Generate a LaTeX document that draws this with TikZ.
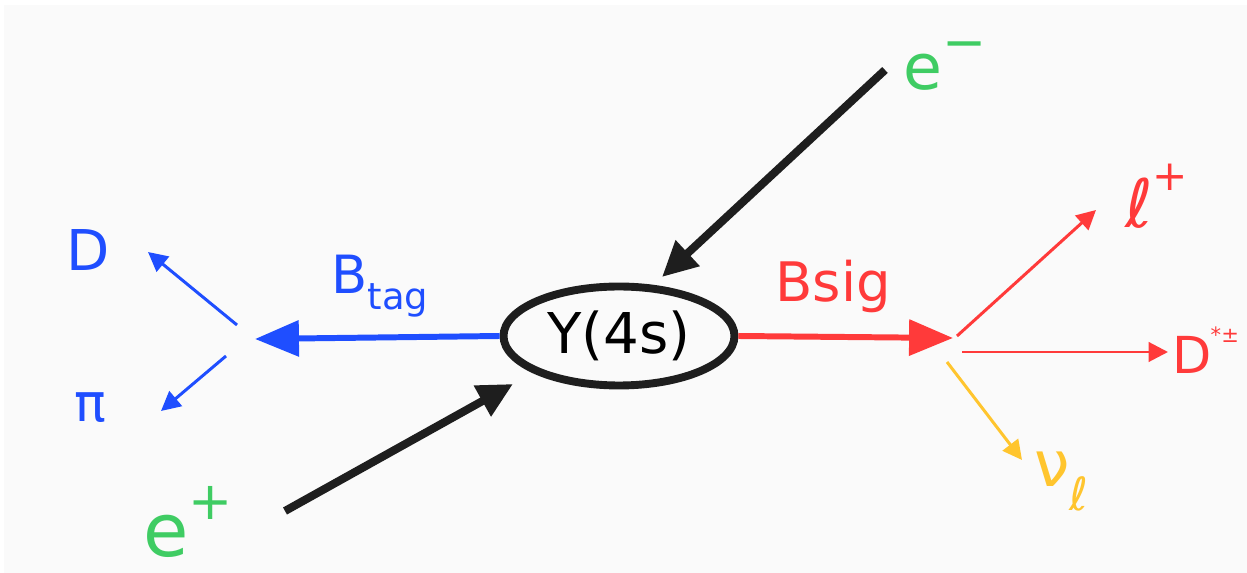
\documentclass[tikz,border=0pt]{standalone}
\usepackage{fontspec}
\setmainfont{DejaVu Sans}
\usetikzlibrary{arrows.meta,shapes.geometric}
\definecolor{paper}{HTML}{FAFAFA}
\definecolor{beamblk}{HTML}{1E1E1E}
\definecolor{tagblue}{HTML}{1F4EFF}
\definecolor{sigred}{HTML}{FF3A3A}
\definecolor{lepgreen}{HTML}{3FCC63}
\definecolor{nuyellow}{HTML}{FFC52E}
\newcommand{\fs}[1]{\fontsize{#1}{#1}\selectfont}
\tikzset{
  beam/.style={draw=beamblk, line width=4.6pt, -{Triangle[length=20pt,width=19pt]}},
  mainarrow/.style={line width=3.4pt, -{Triangle[length=25pt,width=20pt]}},
  decayarrow/.style={line width=1.7pt, -{Triangle[length=11pt,width=11pt]}},
  lbl/.style={inner sep=0pt, anchor=center}
}
\begin{document}
\begin{tikzpicture}[x=0.02cm, y=-0.02cm]
  % canvas
  \fill[white] (0,0) rectangle (1247,573);
  \fill[paper] (4,5) rectangle (1247,573);
  \clip (0,0) rectangle (1247,573);

  % resonance
  \node[ellipse, draw=beamblk, line width=4.5pt, minimum width=4.62cm, minimum height=1.98cm, inner sep=0pt]
    (Y) at (619,336) {\fs{32}Υ(4s)};

  % incoming beams
  \coordinate (emtail) at (885,70);
  \coordinate (emtip) at (662,277);
  \coordinate (eptail) at (285,511);
  \coordinate (eptip) at (513,384);
  \draw[beam] (emtail) -- (emtip);
  \draw[beam] (eptail) -- (eptip);
  \node[lbl, text=lepgreen] (em) at (945,66) {\fs{36}e\raisebox{0.45em}{\fs{30}−}};
  \node[lbl, text=lepgreen] (ep) at (188,522) {\fs{42}e\raisebox{0.5em}{\fs{30}+}};

  % tag side
  \coordinate (tagtip) at (255,339);
  \draw[mainarrow, tagblue] (Y.west) -- (tagtip);
  \node[lbl, text=tagblue] (btag) at (380,286) {\fs{30}B\raisebox{-0.3em}{\fs{21}tag}};
  \coordinate (dtail) at (237,325);
  \coordinate (dtip) at (148,252);
  \coordinate (pitail) at (226,356);
  \coordinate (pitip) at (161,411);
  \draw[decayarrow, tagblue] (dtail) -- (dtip);
  \draw[decayarrow, tagblue] (pitail) -- (pitip);
  \node[lbl, text=tagblue] (D) at (88,250) {\fs{32}D};
  \node[lbl, text=tagblue] (pi) at (90,408) {\fs{30}π};

  % signal side
  \coordinate (sigtip) at (953,338);
  \draw[mainarrow, sigred] (Y.east) -- (sigtip);
  \node[lbl, text=sigred] (bsig) at (833,286) {\fs{31}Bsig};
  \coordinate (ltail) at (957,336);
  \coordinate (ltip) at (1096,210);
  \coordinate (dstail) at (962,352);
  \coordinate (dstip) at (1168,352);
  \coordinate (nutail) at (947,362);
  \coordinate (nutip) at (1022,460);
  \draw[decayarrow, sigred] (ltail) -- (ltip);
  \draw[decayarrow, sigred] (dstail) -- (dstip);
  \draw[decayarrow, nuyellow] (nutail) -- (nutip);
  \node[lbl, text=sigred, anchor=west] (lep) at (1125,196) {\fs{38}ℓ\raisebox{0.55em}{\fs{24}+}};
  \node[lbl, text=sigred, anchor=west] (dstar) at (1172,350) {\fs{29}D\kern-0.5pt\raisebox{0.6em}{\fs{12}*±}};
  \node[lbl, text=nuyellow, anchor=west] (nu) at (1034,482) {\fs{36}ν\raisebox{-0.38em}{\fs{26}ℓ}};
\end{tikzpicture}
\end{document}
